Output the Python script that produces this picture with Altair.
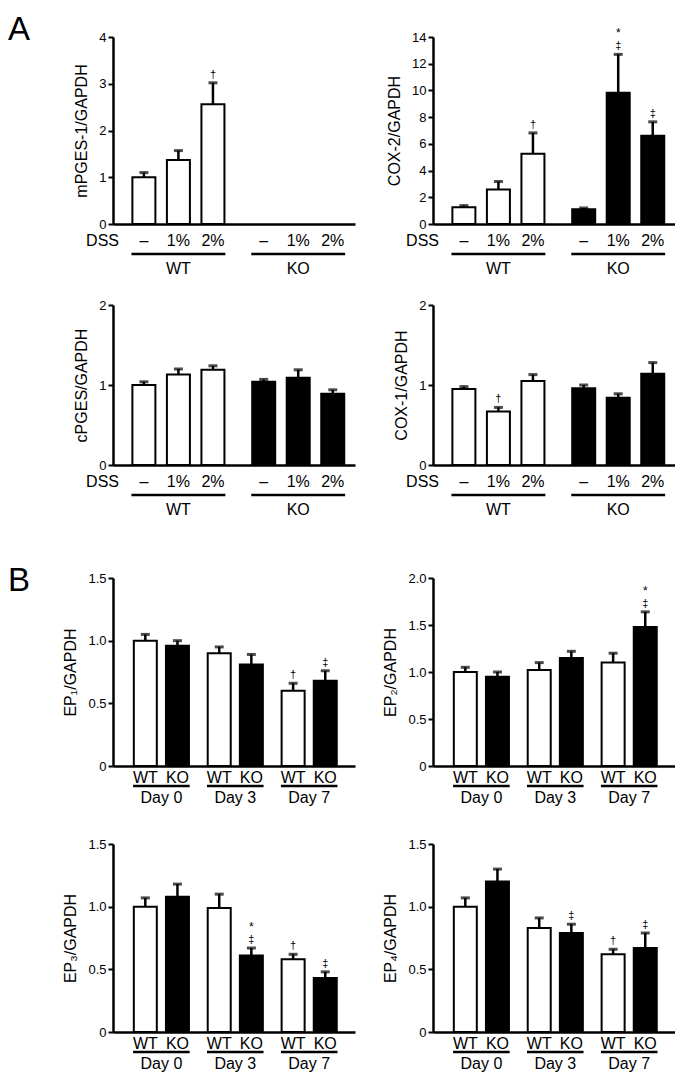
import altair as alt
import pandas as pd

FONT = "Liberation Sans"

# ---------------- Panel A : DSS dose, WT vs KO ----------------
a_genotypes = ["WT", "KO"]
a_doses = ["–", "1%", "2%"]
a_row_label = ["DSS"]

mpges1_mean = [1.00, 1.37, 2.56, None, None, None]
mpges1_err = [0.10, 0.20, 0.46, None, None, None]
mpges1_sig = ["", "", "†", "", "", ""]
mpges1_sig2 = ["", "", "", "", "", ""]

cox2_mean = [1.25, 2.58, 5.26, 1.10, 9.83, 6.60]
cox2_err = [0.13, 0.60, 1.56, 0.10, 2.87, 1.05]
cox2_sig = ["", "", "†", "", "‡", "‡"]
cox2_sig2 = ["", "", "", "", "*", ""]

cpges_mean = [1.00, 1.13, 1.19, 1.04, 1.09, 0.89]
cpges_err = [0.04, 0.07, 0.05, 0.03, 0.10, 0.05]
cpges_sig = ["", "", "", "", "", ""]
cpges_sig2 = ["", "", "", "", "", ""]

cox1_mean = [0.95, 0.67, 1.05, 0.96, 0.84, 1.14]
cox1_err = [0.03, 0.05, 0.08, 0.04, 0.05, 0.14]
cox1_sig = ["", "†", "", "", "", ""]
cox1_sig2 = ["", "", "", "", "", ""]

# ---------------- Panel B : time course, WT vs KO ----------------
b_days = ["Day 0", "Day 3", "Day 7"]
b_genotypes = ["WT", "KO"]

ep1_mean = [1.00, 0.96, 0.90, 0.81, 0.60, 0.68]
ep1_err = [0.05, 0.04, 0.05, 0.08, 0.06, 0.08]
ep1_sig = ["", "", "", "", "†", "‡"]
ep1_sig2 = ["", "", "", "", "", ""]

ep2_mean = [1.00, 0.95, 1.02, 1.15, 1.10, 1.48]
ep2_err = [0.05, 0.05, 0.08, 0.07, 0.10, 0.16]
ep2_sig = ["", "", "", "", "", "‡"]
ep2_sig2 = ["", "", "", "", "", "*"]

ep3_mean = [1.00, 1.08, 0.99, 0.61, 0.58, 0.43]
ep3_err = [0.07, 0.10, 0.11, 0.06, 0.04, 0.05]
ep3_sig = ["", "", "", "‡", "†", "‡"]
ep3_sig2 = ["", "", "", "*", "", ""]

ep4_mean = [1.00, 1.20, 0.83, 0.79, 0.62, 0.67]
ep4_err = [0.07, 0.10, 0.08, 0.07, 0.04, 0.12]
ep4_sig = ["", "", "", "‡", "†", "‡"]
ep4_sig2 = ["", "", "", "", "", ""]

W = 242
# layout: spacing between groups (in bar slots) and x-domain per panel kind
LAYOUT = {
    "A": dict(group_step=3.47, domain=[-0.75, 5.97], half=0.36),
    "B": dict(group_step=2.30, domain=[-0.85, 6.37], half=0.38),
}


def make_df(groups, subs, means, errs, sigs, sigs2, geno_is_group, gstep):
    rows = []
    i = 0
    for gi, g in enumerate(groups):
        for si, s in enumerate(subs):
            m, e = means[i], errs[i]
            rows.append(dict(group=g, sub=s, geno=g if geno_is_group else s,
                             pos=gi * gstep + si,
                             mean=m, top=(m + e) if m is not None else None,
                             sig=sigs[i], sig2=sigs2[i]))
            i += 1
    return pd.DataFrame(rows)


def panel(groups, subs, means, errs, sigs, sigs2, kind, ytitle, ymax, ticks,
          H, top, letter=None, letter_y=0):
    lay = LAYOUT[kind]
    df = make_df(groups, subs, means, errs, sigs, sigs2, kind == "A",
                 lay["group_step"])
    vals = df.dropna(subset=["mean"])
    gdf = df.groupby("group", sort=False)["pos"].agg(["min", "max", "mean"]).reset_index()
    gdf["x1"] = gdf["min"] - lay["half"]
    gdf["x2"] = gdf["max"] + lay["half"]

    if kind == "A":
        sub_y, line_y, grp_y = H + 17, H + 30, H + 45
        label_expr = "format(datum.value, 'd')"
    else:
        sub_y, line_y, grp_y = H + 12, H + 20, H + 32
        label_expr = "datum.value == 0 ? '0' : format(datum.value, '.1f')"

    xscale = alt.Scale(domain=lay["domain"], nice=False, zero=False)
    xaxis = alt.Axis(title=None, labels=False, ticks=False, grid=False,
                     domainWidth=2.5, domainColor="black")
    yscale = alt.Scale(domain=[0, ymax], range=[H, top], nice=False, zero=True)
    yaxis = alt.Axis(title=ytitle, values=ticks, labelExpr=label_expr,
                     tickSize=5, tickWidth=2, domainWidth=2.5,
                     domainColor="black", tickColor="black",
                     labelFontSize=13, labelPadding=2,
                     titleFontSize=16, titlePadding=9,
                     titleFontWeight="normal", grid=False)

    def X(field):
        return alt.X(field, type="quantitative", scale=xscale, axis=xaxis)

    def Y(field):
        return alt.Y(field, type="quantitative", scale=yscale, axis=yaxis)

    base = alt.Chart(vals)
    bars = base.mark_bar(stroke="black", strokeWidth=2, width=23).encode(
        x=X("pos"), y=Y("mean"),
        color=alt.Color("geno:N", scale=alt.Scale(domain=["WT", "KO"],
                                                   range=["white", "black"]),
                        legend=None),
    )
    err = base.mark_rule(color="black", strokeWidth=2.5).encode(
        x=X("pos"), y=Y("mean"), y2="top:Q",
    )
    cap = base.mark_tick(color="black", thickness=3, size=9,
                         orient="horizontal").encode(
        x=X("pos"), y=Y("top"),
    )
    sig = base.mark_text(baseline="bottom", dy=-3, fontSize=11,
                         color="black").encode(
        x=X("pos"), y=Y("top"), text="sig:N",
    )
    sig2 = base.mark_text(baseline="bottom", dy=-14, fontSize=12,
                          color="black").encode(
        x=X("pos"), y=Y("top"), text="sig2:N",
    )
    sub_lbl = alt.Chart(df).mark_text(fontSize=16, baseline="middle",
                                      color="black").encode(
        x=X("pos"), y=alt.value(sub_y), text="sub:N",
    )
    uline = alt.Chart(gdf).mark_rule(color="black", strokeWidth=2.5).encode(
        x=X("x1"), x2="x2:Q", y=alt.value(line_y),
    )
    grp_lbl = alt.Chart(gdf).mark_text(fontSize=16, baseline="middle",
                                       color="black").encode(
        x=X("mean"), y=alt.value(grp_y), text="group:N",
    )
    layers = [bars, err, cap, sig, sig2, sub_lbl, uline, grp_lbl]
    if kind == "A":
        dss = alt.Chart(pd.DataFrame({"t": a_row_label})).mark_text(
            fontSize=16, align="right", baseline="middle", color="black").encode(
            x=alt.value(6), y=alt.value(sub_y), text="t:N")
        layers.append(dss)
    if letter is not None:
        let = alt.Chart(pd.DataFrame({"t": [letter]})).mark_text(
            fontSize=33, align="left", baseline="top", color="black").encode(
            x=alt.value(-105), y=alt.value(letter_y), text="t:N")
        layers.append(let)
    return alt.layer(*layers).properties(width=W, height=H)


# row heights (group height, plot top inside group)
R1 = (216, 29)
R2 = (241, 81)
R3 = (301, 113)
R4 = (266, 78)

c1 = panel(a_genotypes, a_doses, mpges1_mean, mpges1_err, mpges1_sig, mpges1_sig2,
           "A", "mPGES-1/GAPDH", 4, [0, 1, 2, 3, 4], R1[0], R1[1],
           letter="A", letter_y=6)
c2 = panel(a_genotypes, a_doses, cox2_mean, cox2_err, cox2_sig, cox2_sig2,
           "A", "COX-2/GAPDH", 14, [0, 2, 4, 6, 8, 10, 12, 14], R1[0], R1[1])
c3 = panel(a_genotypes, a_doses, cpges_mean, cpges_err, cpges_sig, cpges_sig2,
           "A", "cPGES/GAPDH", 2, [0, 1, 2], R2[0], R2[1])
c4 = panel(a_genotypes, a_doses, cox1_mean, cox1_err, cox1_sig, cox1_sig2,
           "A", "COX-1/GAPDH", 2, [0, 1, 2], R2[0], R2[1])
c5 = panel(b_days, b_genotypes, ep1_mean, ep1_err, ep1_sig, ep1_sig2,
           "B", "EP₁/GAPDH", 1.5, [0, 0.5, 1.0, 1.5], R3[0], R3[1],
           letter="B", letter_y=R3[1] - 13)
c6 = panel(b_days, b_genotypes, ep2_mean, ep2_err, ep2_sig, ep2_sig2,
           "B", "EP₂/GAPDH", 2.0, [0, 0.5, 1.0, 1.5, 2.0], R3[0], R3[1])
c7 = panel(b_days, b_genotypes, ep3_mean, ep3_err, ep3_sig, ep3_sig2,
           "B", "EP₃/GAPDH", 1.5, [0, 0.5, 1.0, 1.5], R4[0], R4[1])
c8 = panel(b_days, b_genotypes, ep4_mean, ep4_err, ep4_sig, ep4_sig2,
           "B", "EP₄/GAPDH", 1.5, [0, 0.5, 1.0, 1.5], R4[0], R4[1])

chart = alt.concat(c1, c2, c3, c4, c5, c6, c7, c8, columns=2,
                   spacing={"row": 0, "column": 78}, bounds="flush").properties(
    padding=0
).configure(font=FONT).configure_view(stroke=None).configure_axis(
    labelFont=FONT, titleFont=FONT, labelColor="black", titleColor="black")

chart.save("out.html", embed_options={"renderer": "svg", "actions": False})
